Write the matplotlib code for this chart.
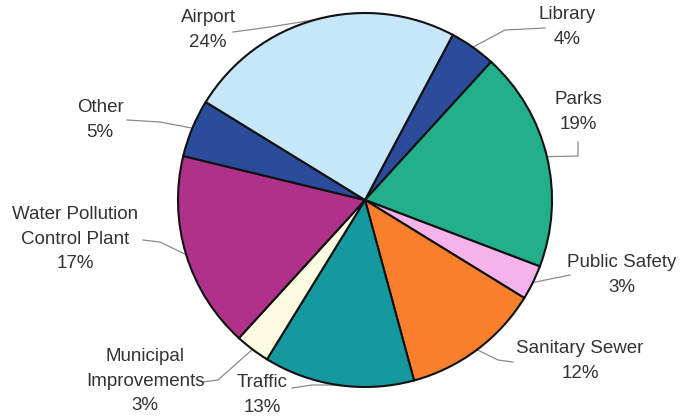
import numpy as np
import matplotlib.pyplot as plt

plt.rcParams['font.family'] = ['Liberation Sans', 'DejaVu Sans']

# Share of spending by category (clockwise from top right)
categories = ['Library', 'Parks', 'Public Safety', 'Sanitary Sewer', 'Traffic',
              'Municipal\nImprovements', 'Water Pollution\nControl Plant', 'Other', 'Airport']
shares = [4, 19, 3, 12, 13, 3, 17, 5, 24]
colors = ['#2b4b9b', '#22b08b', '#f6b2ea', '#f87f2c', '#16989f',
          '#fdfbe2', '#b0318a', '#2b4b9b', '#c6e6f9']

W, H = 684, 416


def px(x, y):
    # image pixel coords -> data coords (y up)
    return x, H - y


# label text centre and the leader-line bend points (pixels)
label_pos = [(567, 27), (578, 112), (622, 275), (580, 361), (262, 395),
             (145, 381), (75, 239), (100, 120), (208, 30)]
leader_pts = [
    [(545, 28), (505, 30)],
    [(578, 142), (578, 156)],
    [(570, 275)],
    [(513, 362), (498, 360)],
    [(292, 388), (312, 385)],
    [(203, 382), (218, 380)],
    [(143, 240), (160, 242)],
    [(127, 120), (160, 122)],
    [(233, 32), (270, 27)],
]

fig = plt.figure(figsize=(6.84, 4.16), dpi=100)
ax = fig.add_axes([0, 0, 1, 1])

cx, cy = px(365, 200)
R = 187
wedges, _ = ax.pie(shares, colors=colors, startangle=62, counterclock=False,
                   center=(cx, cy), radius=R,
                   wedgeprops=dict(edgecolor='#111111', linewidth=1.5))

for w, cat, s, lp, pts in zip(wedges, categories, shares, label_pos, leader_pts):
    mid = np.deg2rad((w.theta1 + w.theta2) / 2)
    ex, ey = cx + R * np.cos(mid), cy + R * np.sin(mid)
    xs = [px(*p)[0] for p in pts] + [ex]
    ys = [px(*p)[1] for p in pts] + [ey]
    ax.plot(xs, ys, color='#8a8a8a', linewidth=0.9, zorder=0)
    ax.text(*px(*lp), f'{cat}\n{s}%', ha='center', va='center',
            fontsize=13.5, color='#333333', linespacing=1.6)

ax.set_xlim(0, W)
ax.set_ylim(0, H)
ax.set_aspect('equal')
ax.axis('off')

fig.savefig('out.png', dpi=100, facecolor='white')
